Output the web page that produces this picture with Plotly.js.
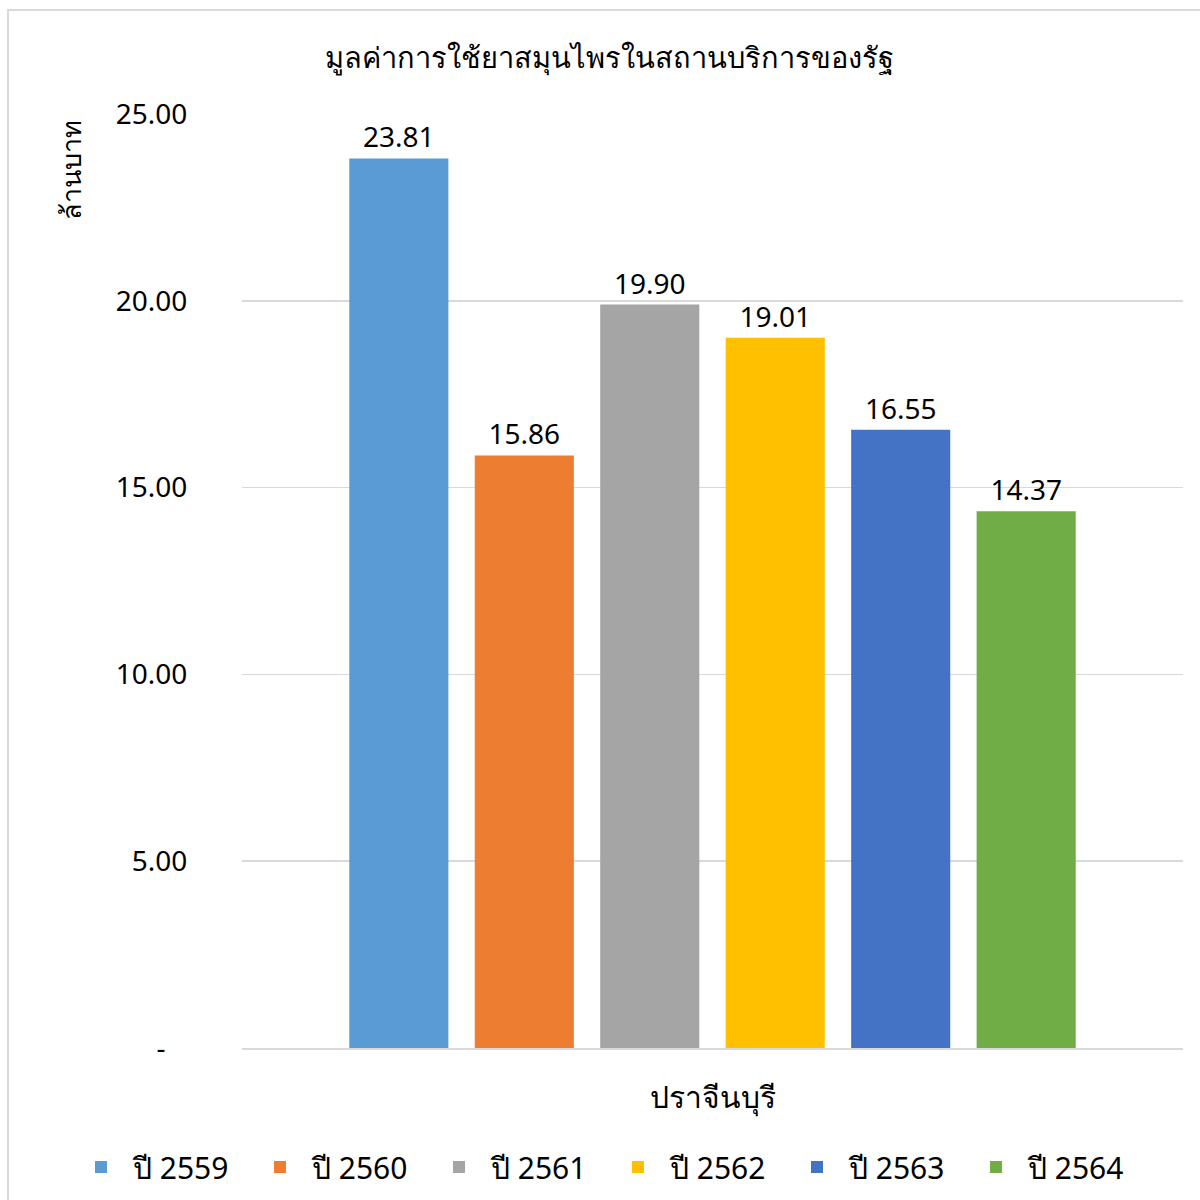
<!DOCTYPE html>
<html>
<head>
<meta charset="utf-8">
<script src="https://cdn.plot.ly/plotly-3.0.1.min.js"></script>
<style>html,body{margin:0;padding:0;background:#fff;}</style>
</head>
<body>
<div id="chart" style="width:1200px;height:1200px;"></div>
<script>
const categories = ["ปราจีนบุรี"];
const seriesNames = ["ปี 2559", "ปี 2560", "ปี 2561", "ปี 2562", "ปี 2563", "ปี 2564"];
const seriesValues = [23.81, 15.86, 19.90, 19.01, 16.55, 14.37];
const seriesColors = ["#5B9BD5", "#ED7D31", "#A5A5A5", "#FFC000", "#4472C4", "#70AD47"];
const yTickVals = [0, 5, 10, 15, 20, 25];
const yTickText = ["-\u00a0\u00a0\u00a0", "5.00", "10.00", "15.00", "20.00", "25.00"];
const chartTitle = "มูลค่าการใช้ยาสมุนไพรในสถานบริการของรัฐ";
const yTitle = "ล้านบาท";

const FONT = "'Noto Sans', 'DejaVu Sans', sans-serif";

const traces = seriesNames.map((name, i) => ({
  type: "bar",
  name: name,
  x: categories,
  y: [seriesValues[i]],
  marker: {color: seriesColors[i]},
  text: [seriesValues[i].toFixed(2)],
  textposition: "outside",
  cliponaxis: false,
  textfont: {size: 28, color: "#000", family: FONT},
  hoverinfo: "none"
}));

const layout = {
  width: 1200,
  height: 1200,
  margin: {l: 242, r: 17, t: 114, b: 152, autoexpand: false},
  paper_bgcolor: "#fff",
  plot_bgcolor: "#fff",
  font: {family: FONT, color: "#000", size: 20},
  title: {text: chartTitle, x: 0.508, xanchor: "center", y: 0.952, yanchor: "middle", font: {size: 29, family: FONT, color: "#000"}},
  barmode: "group",
  bargap: 0.2,
  bargroupgap: 0.21,
  showlegend: true,
  legend: {
    orientation: "h",
    xref: "paper", yref: "paper",
    x: (69 - 242) / 941, xanchor: "left",
    y: (1048 - 1167) / 934, yanchor: "middle",
    font: {size: 30, family: FONT, color: "#000"},
    entrywidth: 110,
    entrywidthmode: "pixels",
    itemwidth: 54
  },
  xaxis: {
    type: "category",
    automargin: false,
    showgrid: false,
    showline: true,
    linecolor: "#d9d9d9",
    linewidth: 2,
    ticks: "outside",
    ticklen: 22,
    tickcolor: "rgba(0,0,0,0)",
    tickfont: {size: 30, family: FONT, color: "#000"},
    zeroline: false
  },
  yaxis: {
    range: [0, 25],
    automargin: false,
    tickvals: yTickVals,
    ticktext: yTickText,
    showgrid: true,
    gridcolor: "#d9d9d9",
    gridwidth: 1.5,
    zeroline: false,
    showline: false,
    ticks: "outside",
    ticklen: 48,
    tickcolor: "rgba(0,0,0,0)",
    tickfont: {size: 28, family: FONT, color: "#000"}
  },
  annotations: [{
    text: yTitle,
    xref: "paper", yref: "paper",
    x: (70 - 242) / 941, y: (1048 - 170) / 934,
    xanchor: "center", yanchor: "middle",
    textangle: -90,
    showarrow: false,
    font: {size: 27, family: FONT, color: "#000"}
  }],
  shapes: [{
    type: "rect",
    xref: "paper", yref: "paper",
    x0: (8 - 242) / 941, x1: (1260 - 242) / 941,
    y0: (1048 - 1260) / 934, y1: (1048 - 10) / 934,
    line: {color: "#d9d9d9", width: 2},
    fillcolor: "rgba(0,0,0,0)",
    layer: "below"
  }]
};

Plotly.newPlot("chart", traces, layout, {displayModeBar: false, staticPlot: true});
</script>
</body>
</html>
